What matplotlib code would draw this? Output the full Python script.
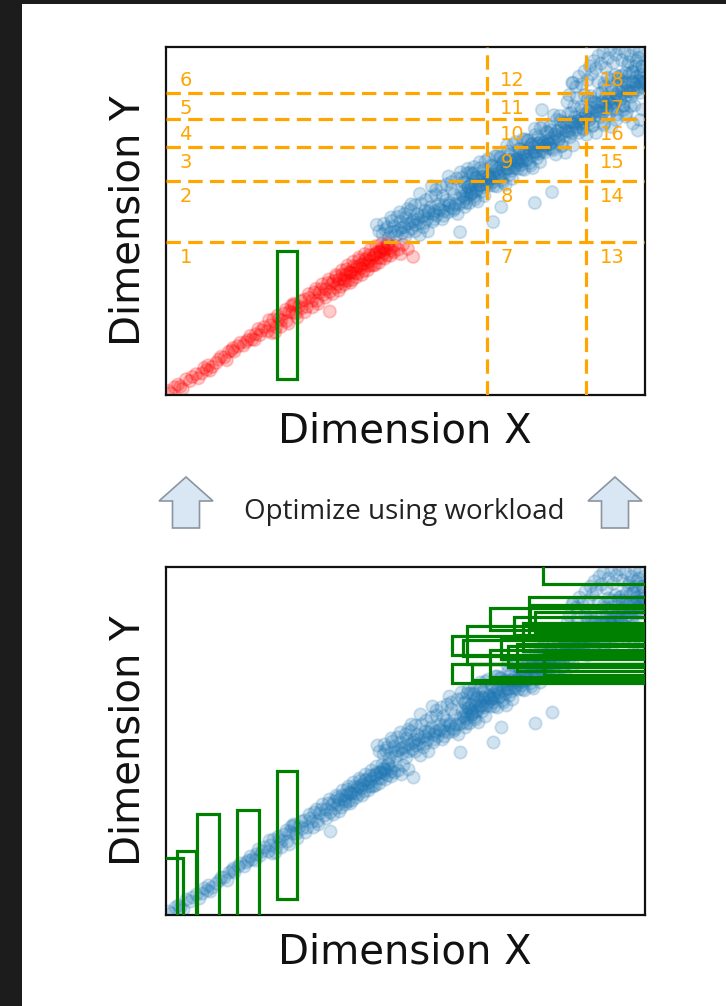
import matplotlib.pyplot as plt
from matplotlib.patches import Rectangle, Polygon
import numpy as np

# ---------------------------------------------------------------------------
# data: 2-d points (normalised to the unit square)
# ---------------------------------------------------------------------------
pts_low = [(0.005, 0.012), (0.018, 0.022), (0.030, 0.024), (0.042, 0.045), (0.050, 0.040),
           (0.063, 0.060), (0.075, 0.062), (0.085, 0.072), (0.088, 0.085), (0.097, 0.081),
           (0.110, 0.102), (0.122, 0.108), (0.131, 0.124), (0.140, 0.135), (0.143, 0.125),
           (0.150, 0.140), (0.162, 0.142), (0.171, 0.158), (0.180, 0.160), (0.188, 0.175),
           (0.196, 0.172), (0.200, 0.185), (0.010, 0.005), (0.025, 0.030), (0.035, 0.018),
           (0.055, 0.052), (0.068, 0.048), (0.080, 0.078), (0.092, 0.070), (0.105, 0.092),
           (0.115, 0.110), (0.127, 0.100), (0.137, 0.128), (0.155, 0.150), (0.167, 0.152),
           (0.176, 0.170), (0.185, 0.158), (0.193, 0.190)]

pts_lower_mid = [(0.205, 0.195), (0.212, 0.183), (0.218, 0.200), (0.224, 0.217), (0.230, 0.195),
                 (0.236, 0.218), (0.241, 0.214), (0.247, 0.234), (0.252, 0.212), (0.258, 0.240),
                 (0.263, 0.237), (0.268, 0.259), (0.272, 0.235), (0.278, 0.255), (0.283, 0.249),
                 (0.289, 0.274), (0.294, 0.253), (0.300, 0.279), (0.305, 0.271), (0.310, 0.295),
                 (0.315, 0.270), (0.320, 0.294), (0.324, 0.304), (0.329, 0.288), (0.334, 0.304),
                 (0.338, 0.322), (0.342, 0.296), (0.346, 0.319), (0.228, 0.180), (0.262, 0.256),
                 (0.342, 0.240)]

pts_knee = [(0.350, 0.327), (0.353, 0.308), (0.356, 0.340), (0.359, 0.319), (0.362, 0.332),
            (0.365, 0.311), (0.368, 0.346), (0.371, 0.334), (0.374, 0.329), (0.377, 0.361),
            (0.380, 0.328), (0.383, 0.353), (0.386, 0.350), (0.389, 0.330), (0.392, 0.370),
            (0.395, 0.350), (0.398, 0.368), (0.401, 0.349), (0.404, 0.388), (0.407, 0.364),
            (0.410, 0.376), (0.413, 0.356), (0.416, 0.387), (0.419, 0.378), (0.422, 0.371),
            (0.425, 0.402), (0.428, 0.372), (0.431, 0.393), (0.434, 0.402), (0.437, 0.374),
            (0.440, 0.410), (0.443, 0.394), (0.446, 0.410), (0.449, 0.393), (0.452, 0.423),
            (0.455, 0.407), (0.458, 0.418), (0.461, 0.401), (0.464, 0.430), (0.467, 0.422),
            (0.470, 0.415), (0.475, 0.410), (0.490, 0.405), (0.505, 0.420), (0.516, 0.397)]

pts_knee_wide = [(0.215, 0.215), (0.222, 0.178), (0.233, 0.228), (0.240, 0.196), (0.250, 0.245),
                 (0.256, 0.205), (0.266, 0.262), (0.274, 0.222), (0.282, 0.270), (0.290, 0.238),
                 (0.298, 0.290), (0.306, 0.252), (0.313, 0.305), (0.318, 0.262), (0.326, 0.318),
                 (0.333, 0.280), (0.340, 0.332), (0.348, 0.290), (0.355, 0.345), (0.361, 0.300),
                 (0.367, 0.358), (0.373, 0.318), (0.379, 0.372), (0.385, 0.322), (0.391, 0.383),
                 (0.397, 0.338), (0.403, 0.395), (0.409, 0.345), (0.415, 0.405), (0.421, 0.358),
                 (0.427, 0.418), (0.433, 0.372), (0.439, 0.428), (0.445, 0.380), (0.451, 0.435),
                 (0.457, 0.392), (0.463, 0.437), (0.469, 0.400), (0.478, 0.430), (0.485, 0.418),
                 (0.495, 0.432), (0.375, 0.345), (0.395, 0.360), (0.418, 0.392), (0.438, 0.405),
                 (0.455, 0.420), (0.385, 0.352), (0.405, 0.372), (0.425, 0.385), (0.447, 0.412)]

pts_mid = [(0.440, 0.489), (0.452, 0.462), (0.458, 0.475), (0.465, 0.452), (0.470, 0.468),
           (0.476, 0.485), (0.480, 0.458), (0.485, 0.473), (0.489, 0.498), (0.493, 0.465),
           (0.497, 0.482), (0.501, 0.510), (0.505, 0.470), (0.509, 0.492), (0.513, 0.478),
           (0.517, 0.505), (0.521, 0.488), (0.525, 0.520), (0.529, 0.495), (0.533, 0.512),
           (0.537, 0.482), (0.541, 0.530), (0.545, 0.505), (0.549, 0.522), (0.553, 0.540),
           (0.557, 0.498), (0.561, 0.528), (0.565, 0.515), (0.569, 0.548), (0.573, 0.532),
           (0.577, 0.505), (0.581, 0.545), (0.585, 0.560), (0.589, 0.525), (0.593, 0.552),
           (0.597, 0.538), (0.601, 0.575), (0.605, 0.548), (0.609, 0.520), (0.613, 0.565),
           (0.617, 0.585), (0.621, 0.555), (0.614, 0.468), (0.530, 0.460), (0.563, 0.575),
           (0.596, 0.592), (0.505, 0.535), (0.547, 0.470), (0.578, 0.572)]

pts_mid_wide = [(0.445, 0.470), (0.455, 0.492), (0.462, 0.482), (0.472, 0.500), (0.478, 0.470),
                (0.483, 0.512), (0.491, 0.480), (0.498, 0.520), (0.503, 0.492), (0.510, 0.530),
                (0.515, 0.498), (0.520, 0.545), (0.526, 0.505), (0.532, 0.550), (0.538, 0.515),
                (0.543, 0.560), (0.548, 0.528), (0.554, 0.570), (0.559, 0.520), (0.564, 0.590),
                (0.570, 0.535), (0.575, 0.598), (0.580, 0.528), (0.586, 0.605), (0.591, 0.545),
                (0.596, 0.612), (0.602, 0.535), (0.607, 0.622), (0.612, 0.548), (0.618, 0.625),
                (0.624, 0.540), (0.630, 0.650), (0.636, 0.575), (0.643, 0.655), (0.648, 0.585),
                (0.520, 0.470), (0.540, 0.495), (0.560, 0.505), (0.580, 0.515), (0.600, 0.530),
                (0.500, 0.455), (0.530, 0.578), (0.555, 0.600), (0.590, 0.628), (0.615, 0.640),
                (0.470, 0.510), (0.488, 0.525), (0.512, 0.548)]

pts_upper_a = [(0.622, 0.612), (0.626, 0.565), (0.629, 0.637), (0.633, 0.551), (0.637, 0.604),
               (0.640, 0.637), (0.644, 0.570), (0.647, 0.622), (0.651, 0.556), (0.655, 0.669),
               (0.658, 0.602), (0.662, 0.645), (0.665, 0.572), (0.669, 0.636), (0.673, 0.679),
               (0.676, 0.602), (0.680, 0.660), (0.683, 0.612), (0.687, 0.686), (0.691, 0.599),
               (0.694, 0.652), (0.698, 0.685), (0.701, 0.617), (0.705, 0.671), (0.709, 0.604),
               (0.712, 0.717), (0.716, 0.650), (0.719, 0.692), (0.723, 0.621), (0.727, 0.684),
               (0.730, 0.727), (0.734, 0.650), (0.737, 0.707), (0.741, 0.661), (0.745, 0.734),
               (0.748, 0.647), (0.752, 0.700), (0.755, 0.732), (0.759, 0.666), (0.763, 0.719),
               (0.766, 0.652), (0.770, 0.765), (0.773, 0.697), (0.777, 0.741), (0.781, 0.669),
               (0.784, 0.732), (0.788, 0.775), (0.791, 0.697), (0.795, 0.756), (0.799, 0.709)]

pts_upper_b = [(0.624, 0.587), (0.628, 0.577), (0.631, 0.599), (0.635, 0.589), (0.639, 0.579),
               (0.642, 0.615), (0.646, 0.600), (0.649, 0.590), (0.653, 0.615), (0.657, 0.603),
               (0.660, 0.627), (0.664, 0.597), (0.667, 0.620), (0.671, 0.611), (0.675, 0.631),
               (0.678, 0.623), (0.682, 0.635), (0.685, 0.624), (0.689, 0.648), (0.693, 0.637),
               (0.696, 0.627), (0.700, 0.663), (0.703, 0.647), (0.707, 0.639), (0.711, 0.663),
               (0.714, 0.651), (0.718, 0.675), (0.721, 0.644), (0.725, 0.669), (0.729, 0.659),
               (0.732, 0.679), (0.736, 0.671), (0.739, 0.682), (0.743, 0.673), (0.747, 0.696),
               (0.750, 0.685), (0.754, 0.675), (0.757, 0.710), (0.761, 0.696), (0.765, 0.687),
               (0.768, 0.711), (0.772, 0.699), (0.775, 0.722), (0.779, 0.693), (0.783, 0.717),
               (0.786, 0.707), (0.790, 0.727), (0.793, 0.718), (0.797, 0.731), (0.801, 0.721)]

pts_upper_c = [(0.620, 0.572), (0.624, 0.610), (0.627, 0.552), (0.631, 0.596), (0.635, 0.639),
               (0.638, 0.582), (0.642, 0.635), (0.645, 0.562), (0.649, 0.626), (0.653, 0.604),
               (0.656, 0.652), (0.660, 0.585), (0.663, 0.627), (0.667, 0.671), (0.671, 0.604),
               (0.674, 0.627), (0.678, 0.620), (0.681, 0.657), (0.685, 0.601), (0.689, 0.644),
               (0.692, 0.687), (0.696, 0.630), (0.699, 0.682), (0.703, 0.611), (0.707, 0.674),
               (0.710, 0.652), (0.714, 0.700), (0.717, 0.632), (0.721, 0.676), (0.725, 0.719),
               (0.728, 0.652), (0.732, 0.675), (0.735, 0.667), (0.739, 0.706), (0.743, 0.649),
               (0.746, 0.692), (0.750, 0.735), (0.753, 0.677), (0.757, 0.731), (0.761, 0.659),
               (0.764, 0.722), (0.768, 0.700), (0.771, 0.747), (0.775, 0.681), (0.779, 0.724),
               (0.782, 0.767), (0.786, 0.700), (0.789, 0.722), (0.793, 0.716), (0.797, 0.754)]

pts_top_a = [(0.802, 0.771), (0.806, 0.709), (0.810, 0.804), (0.814, 0.691), (0.818, 0.759),
             (0.822, 0.802), (0.826, 0.714), (0.830, 0.783), (0.834, 0.696), (0.838, 0.842),
             (0.842, 0.755), (0.846, 0.810), (0.850, 0.717), (0.854, 0.799), (0.858, 0.854),
             (0.862, 0.753), (0.866, 0.828), (0.870, 0.767), (0.874, 0.862), (0.878, 0.748),
             (0.882, 0.817), (0.886, 0.859), (0.890, 0.772), (0.894, 0.841), (0.898, 0.753),
             (0.902, 0.900), (0.906, 0.812), (0.910, 0.868), (0.914, 0.775), (0.918, 0.856),
             (0.922, 0.912), (0.926, 0.810), (0.930, 0.886), (0.934, 0.825), (0.938, 0.919),
             (0.942, 0.806), (0.946, 0.874), (0.950, 0.917), (0.954, 0.830), (0.958, 0.898),
             (0.962, 0.811), (0.966, 0.957), (0.970, 0.870), (0.974, 0.926), (0.978, 0.832),
             (0.982, 0.914), (0.986, 0.969), (0.990, 0.868), (0.994, 0.944), (0.998, 0.882)]

pts_top_b = [(0.804, 0.737), (0.808, 0.727), (0.812, 0.751), (0.816, 0.741), (0.820, 0.731),
             (0.824, 0.768), (0.828, 0.753), (0.832, 0.745), (0.836, 0.770), (0.840, 0.758),
             (0.844, 0.783), (0.848, 0.753), (0.852, 0.778), (0.856, 0.769), (0.860, 0.789),
             (0.864, 0.782), (0.868, 0.794), (0.872, 0.785), (0.876, 0.809), (0.880, 0.798),
             (0.884, 0.789), (0.888, 0.825), (0.892, 0.811), (0.896, 0.803), (0.900, 0.827),
             (0.904, 0.816), (0.908, 0.840), (0.912, 0.811), (0.916, 0.836), (0.920, 0.826),
             (0.924, 0.847), (0.928, 0.839), (0.932, 0.852), (0.936, 0.843), (0.940, 0.866),
             (0.944, 0.856), (0.948, 0.846), (0.952, 0.883), (0.956, 0.869), (0.960, 0.860),
             (0.964, 0.885), (0.968, 0.873), (0.972, 0.898), (0.976, 0.869), (0.980, 0.893),
             (0.984, 0.884), (0.988, 0.904), (0.992, 0.897), (0.996, 0.910), (0.999, 0.900)]

pts_top_c = [(0.800, 0.722), (0.804, 0.760), (0.808, 0.704), (0.812, 0.748), (0.816, 0.791),
             (0.820, 0.735), (0.824, 0.788), (0.828, 0.717), (0.832, 0.781), (0.836, 0.759),
             (0.840, 0.808), (0.844, 0.741), (0.848, 0.785), (0.852, 0.829), (0.856, 0.762),
             (0.860, 0.786), (0.864, 0.779), (0.868, 0.818), (0.872, 0.762), (0.876, 0.805),
             (0.880, 0.849), (0.884, 0.792), (0.888, 0.846), (0.892, 0.775), (0.896, 0.838),
             (0.900, 0.817), (0.904, 0.865), (0.908, 0.799), (0.912, 0.843), (0.916, 0.886),
             (0.920, 0.820), (0.924, 0.843), (0.928, 0.837), (0.932, 0.876), (0.936, 0.819),
             (0.940, 0.863), (0.944, 0.906), (0.948, 0.850), (0.952, 0.904), (0.956, 0.832),
             (0.960, 0.896), (0.964, 0.874), (0.968, 0.923), (0.972, 0.857), (0.976, 0.900),
             (0.980, 0.944), (0.984, 0.877), (0.988, 0.901), (0.992, 0.895), (0.996, 0.933)]

pts_top_edge = [(0.842, 0.862), (0.848, 0.897), (0.856, 0.885), (0.862, 0.915), (0.868, 0.893),
                (0.874, 0.930), (0.880, 0.905), (0.885, 0.945), (0.889, 0.922), (0.893, 0.960),
                (0.898, 0.938), (0.903, 0.975), (0.908, 0.952), (0.913, 0.985), (0.918, 0.940),
                (0.923, 0.968), (0.928, 0.992), (0.934, 0.955), (0.940, 0.978), (0.946, 0.995),
                (0.952, 0.962), (0.958, 0.985), (0.964, 0.948), (0.970, 0.975), (0.976, 0.995),
                (0.982, 0.960), (0.988, 0.985), (0.994, 0.945), (0.998, 0.975), (0.960, 0.925),
                (0.975, 0.930), (0.990, 0.920), (0.945, 0.915), (0.930, 0.905), (0.915, 0.895),
                (0.960, 0.800), (0.975, 0.780), (0.990, 0.790), (0.985, 0.760), (0.995, 0.820),
                (0.940, 0.790), (0.955, 0.820), (0.970, 0.830), (0.930, 0.770), (0.915, 0.780)]

pts_outliers = [(0.683, 0.497), (0.770, 0.552), (0.806, 0.583), (0.785, 0.819),
                (0.850, 0.897), (0.700, 0.540)]

# grid partition of the space (cell boundaries)
x_splits = [0.670, 0.877]
y_splits = [0.440, 0.615, 0.713, 0.793, 0.868]

# single query (x0, y0, x1, y1)
query = (0.232, 0.045, 0.273, 0.414)

# query workload used for optimisation (x0, y0, x1, y1)
workload = [(-0.020, -0.050, 0.035, 0.164),
            (0.023, -0.050, 0.063, 0.184),
            (0.065, -0.050, 0.111, 0.290),
            (0.148, -0.050, 0.194, 0.302),
            (0.232, 0.045, 0.273, 0.414),
            (0.787, 0.951, 1.050, 1.080),
            (0.758, 0.790, 1.050, 0.914),
            (0.676, 0.819, 1.050, 0.882),
            (0.727, 0.805, 1.050, 0.856),
            (0.770, 0.810, 1.050, 0.871),
            (0.628, 0.720, 1.050, 0.830),
            (0.597, 0.747, 1.050, 0.802),
            (0.620, 0.745, 1.050, 0.790),
            (0.700, 0.735, 1.050, 0.800),
            (0.733, 0.700, 1.050, 0.780),
            (0.676, 0.684, 1.050, 0.761),
            (0.597, 0.667, 1.050, 0.721),
            (0.638, 0.675, 1.050, 0.721),
            (0.745, 0.760, 1.050, 0.838),
            (0.715, 0.712, 1.050, 0.772),
            (0.790, 0.690, 1.050, 0.750),
            (0.760, 0.828, 1.050, 0.890)]

# ---------------------------------------------------------------------------
pts = np.array(pts_low + pts_lower_mid + pts_knee + pts_knee_wide + pts_mid + pts_mid_wide
               + pts_upper_a + pts_upper_b + pts_upper_c + pts_top_a + pts_top_b
               + pts_top_c + pts_top_edge + pts_outliers)
px, py = pts[:, 0], pts[:, 1]

BLUE = '#1f77b4'
ORANGE = '#ffa500'
GREEN = '#008000'
MS = 80      # marker area
ALPHA = 0.2

W, H = 726, 1006
fig = plt.figure(figsize=(W / 100, H / 100), dpi=100, facecolor='#1c1c1c')
# white slide area
fig.patches.append(Rectangle((22 / W, 0), (W - 22) / W, (H - 4) / H,
                             transform=fig.transFigure, facecolor='white',
                             edgecolor='none', zorder=-5))


def style_axes(ax):
    ax.set_xlim(0, 1)
    ax.set_ylim(0, 1)
    ax.set_xticks([])
    ax.set_yticks([])
    for sp in ax.spines.values():
        sp.set_linewidth(1.6)
        sp.set_color('#111111')


# --- top: grid partition and one query --------------------------------------
ax1 = fig.add_axes([166 / W, 1 - 395 / H, 479 / W, 348 / H])
style_axes(ax1)

# points inside the cell hit by the query are highlighted
in_cell = (px < x_splits[0]) & (py < y_splits[0])
colors = np.where(in_cell, 'red', BLUE)
ax1.scatter(px, py, s=MS, c=colors, alpha=ALPHA, linewidths=1.3, zorder=2)

for xs in x_splits:
    ax1.axvline(xs, color=ORANGE, lw=2.3, dashes=(4.5, 2.3), zorder=3)
for ys in y_splits:
    ax1.axhline(ys, color=ORANGE, lw=2.3, dashes=(4.5, 2.3), zorder=3)

col_left = [0.0] + x_splits
row_top = y_splits + [0.95]
n = 1
for cx in col_left:
    for ry in row_top:
        ax1.text(cx + 0.028, ry - 0.045, str(n), color=ORANGE, fontsize=14,
                 ha='left', va='center', zorder=4)
        n += 1

x0, y0, x1, y1 = query
ax1.add_patch(Rectangle((x0, y0), x1 - x0, y1 - y0, fill=False,
                        edgecolor=GREEN, lw=2.3, zorder=5))

# --- bottom: points with the query workload ---------------------------------
ax2 = fig.add_axes([166 / W, 1 - 915 / H, 479 / W, 348 / H])
style_axes(ax2)
ax2.scatter(px, py, s=MS, c=BLUE, alpha=ALPHA, linewidths=1.3, zorder=2)
for x0, y0, x1, y1 in workload:
    ax2.add_patch(Rectangle((x0, y0), x1 - x0, y1 - y0, fill=False,
                            edgecolor=GREEN, lw=2.3, zorder=5))

# axis titles
for yc_x, yc_y in [(432, 221), (952, 741)]:
    fig.text(405 / W, 1 - yc_x / H, 'Dimension X', fontsize=29,
             ha='center', va='center', color='#111111')
    fig.text(128 / W, 1 - yc_y / H, 'Dimension Y', fontsize=29, rotation=90,
             ha='center', va='center', color='#111111')


# block arrows and caption between the panels
def up_arrow(cx):
    shape = [(0, 477), (27, 501), (13.5, 501), (13.5, 528), (-13.5, 528),
             (-13.5, 501), (-27, 501)]
    xy = [((cx + dx) / W, 1 - y / H) for dx, y in shape]
    fig.patches.append(Polygon(xy, closed=True, transform=fig.transFigure,
                               facecolor='#d9e7f5', edgecolor='#8b959f',
                               lw=1.2, zorder=3))


up_arrow(186)
up_arrow(615)
fig.text(404 / W, 1 - 512 / H, 'Optimize using workload', fontsize=20,
         family=['Open Sans', 'DejaVu Sans'], ha='center', va='center',
         color='#222222')

fig.savefig('out.png', dpi=100, facecolor=fig.get_facecolor())
